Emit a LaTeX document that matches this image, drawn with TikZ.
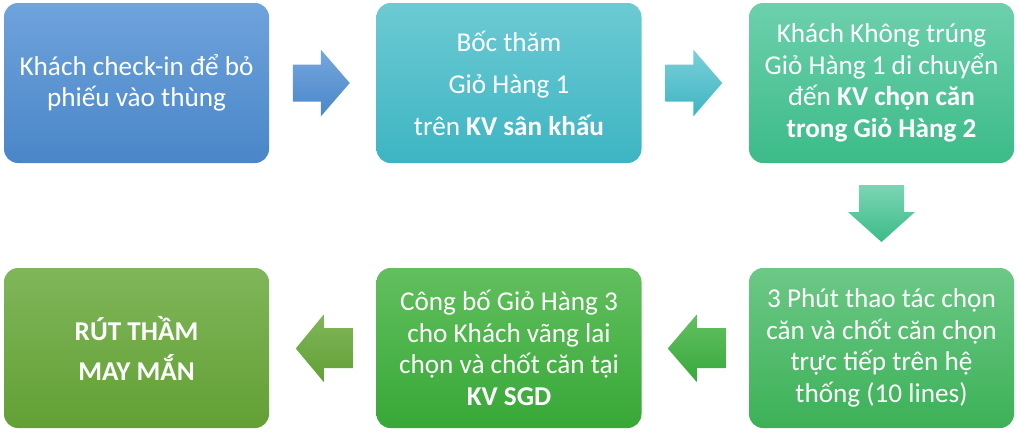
\documentclass[tikz,border=0pt]{standalone}
\usepackage{fontspec}
\setmainfont{Carlito}
\usetikzlibrary{calc}
\definecolor{aT}{HTML}{6EA3DC}\definecolor{aB}{HTML}{4A86C8}
\definecolor{bT}{HTML}{6CCAD3}\definecolor{bB}{HTML}{3DB5C3}
\definecolor{cT}{HTML}{6DD0AD}\definecolor{cB}{HTML}{3CBB88}
\definecolor{dT}{HTML}{6CC886}\definecolor{dB}{HTML}{3CB157}
\definecolor{eT}{HTML}{62BF5E}\definecolor{eB}{HTML}{37A837}
\definecolor{fT}{HTML}{80B65A}\definecolor{fB}{HTML}{62A034}
\tikzset{
  box/.style={rounded corners=14pt, minimum width=265pt, minimum height=160pt,
    inner sep=0pt, align=center, text=white,
    font=\fontsize{27.2}{31.5}\selectfont},
}
\begin{document}
\begin{tikzpicture}[x=1pt,y=-1pt]
\useasboundingbox (0,0) rectangle (1019,432);
\node[box, top color=aT, bottom color=aB] (b1) at (136.5,83) {Khách check-in để bỏ\\phiếu vào thùng};
\node[box, top color=bT, bottom color=bB, font=\fontsize{27.2}{42}\selectfont] (b2) at (509,83) {Bốc thăm\\Giỏ Hàng 1\\trên \textbf{KV sân khấu}};
\node[box, top color=cT, bottom color=cB] (b3) at (881.5,83) {Khách Không trúng\\Giỏ Hàng 1 di chuyển\\đến \textbf{KV chọn căn}\\\textbf{trong Giỏ Hàng 2}};
\node[box, top color=dT, bottom color=dB] (b4) at (881.5,348) {3 Phút thao tác chọn\\căn và chốt căn chọn\\trực tiếp trên hệ\\thống (10 lines)};
\node[box, top color=eT, bottom color=eB] (b5) at (509,348) {Công bố Giỏ Hàng 3\\cho Khách vãng lai\\chọn và chốt căn tại\\\textbf{KV SGD}};
\node[box, top color=fT, bottom color=fB, font=\bfseries\fontsize{27.2}{40}\selectfont] (b6) at (136.5,348) {RÚT THẦM\\MAY MẮN};
% arrow b1 -> b2
\coordinate (m12) at ($(b1.east)!0.5!(b2.west)$);
\shade[top color=aT!95!white, bottom color=aB] ($(m12)+(-30,-18.5)$) -- ($(m12)+(-2,-18.5)$) -- ($(m12)+(-2,-33.5)$) -- ($(m12)+(27,0)$) -- ($(m12)+(-2,33.5)$) -- ($(m12)+(-2,18.5)$) -- ($(m12)+(-30,18.5)$) -- cycle;
% arrow b2 -> b3
\coordinate (m23) at ($(b2.east)!0.5!(b3.west)$);
\shade[top color=bT!90!white, bottom color=bB] ($(m23)+(-30,-18.5)$) -- ($(m23)+(-2,-18.5)$) -- ($(m23)+(-2,-33.5)$) -- ($(m23)+(27,0)$) -- ($(m23)+(-2,33.5)$) -- ($(m23)+(-2,18.5)$) -- ($(m23)+(-30,18.5)$) -- cycle;
% arrow b3 -> b4
\coordinate (m34) at ($(b3.south)!0.5!(b4.north)$);
\shade[top color=cT!90!white, bottom color=cB] ($(m34)+(-22.5,-30.5)$) -- ($(m34)+(22.5,-30.5)$) -- ($(m34)+(22.5,-3.5)$) -- ($(m34)+(33.5,-3.5)$) -- ($(m34)+(0,26.5)$) -- ($(m34)+(-33.5,-3.5)$) -- ($(m34)+(-22.5,-3.5)$) -- cycle;
% arrow b4 -> b5
\coordinate (m45) at ($(b5.east)!0.5!(b4.west)$);
\shade[top color=eT!90!dT, bottom color=eB!90!dB] ($(m45)+(30.5,-20)$) -- ($(m45)+(1.5,-20)$) -- ($(m45)+(1.5,-33.5)$) -- ($(m45)+(-27.5,0.5)$) -- ($(m45)+(1.5,34)$) -- ($(m45)+(1.5,20)$) -- ($(m45)+(30.5,20)$) -- cycle;
% arrow b5 -> b6
\coordinate (m56) at ($(b6.east)!0.5!(b5.west)$);
\shade[top color=fT, bottom color=fB] ($(m56)+(30,-20)$) -- ($(m56)+(1,-20)$) -- ($(m56)+(1,-33.5)$) -- ($(m56)+(-27,0.5)$) -- ($(m56)+(1,34)$) -- ($(m56)+(1,20)$) -- ($(m56)+(30,20)$) -- cycle;
\end{tikzpicture}
\end{document}
